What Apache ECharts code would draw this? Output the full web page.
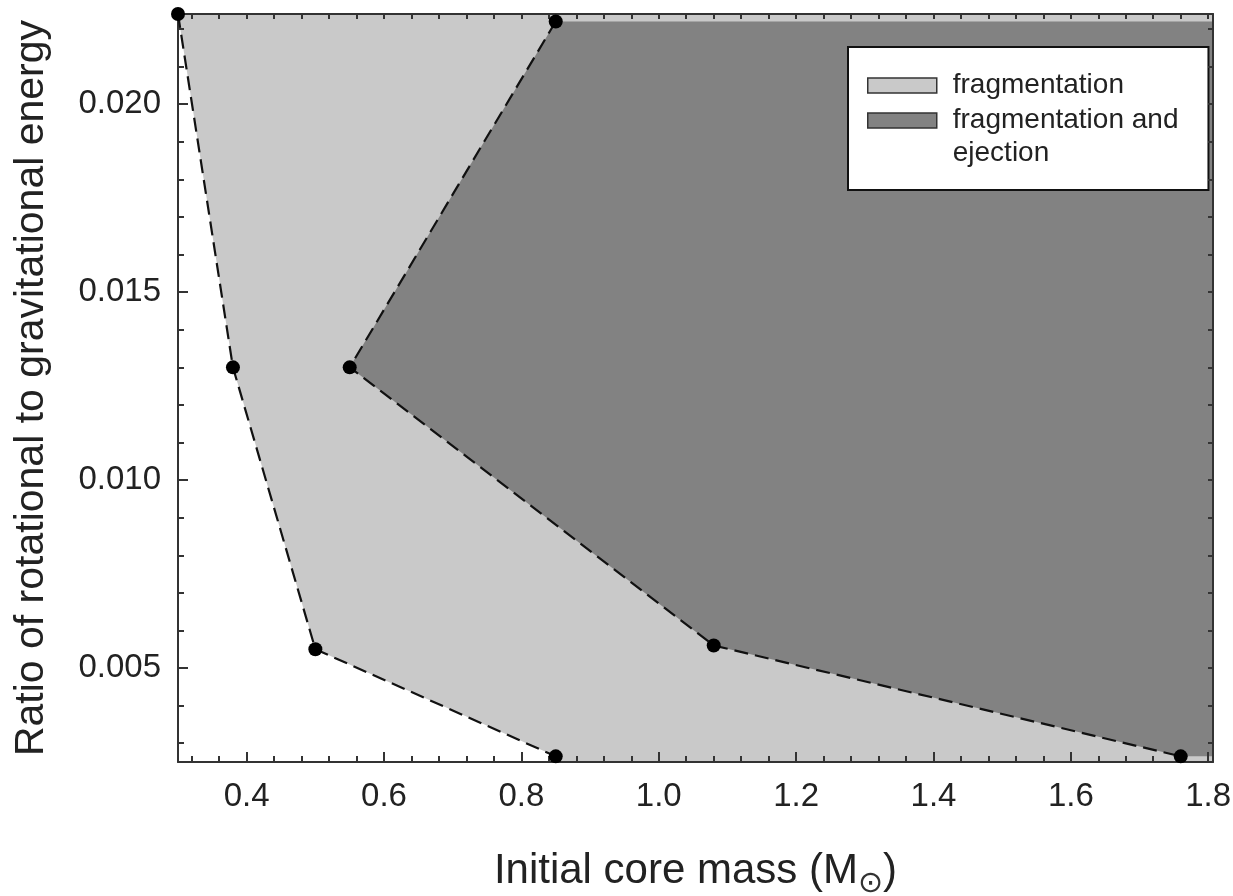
<!DOCTYPE html>
<html>
<head>
<meta charset="utf-8">
<title>Fragmentation regions</title>
<script src="https://cdn.jsdelivr.net/npm/echarts@6.0.0/dist/echarts.min.js"></script>
<style>
html, body { margin: 0; padding: 0; background: #fff; }
#chart { width: 1233px; height: 896px; }
</style>
</head>
<body>
<div id="chart"></div>
<script>
// left dashed boundary: onset of fragmentation
var fragMass = [0.30, 0.38, 0.50, 0.85];
var fragBeta = [0.0224, 0.0130, 0.0055, 0.00265];
// inner dashed boundary: fragmentation and ejection
var ejecMass = [0.85, 0.55, 1.08, 1.76];
var ejecBeta = [0.0222, 0.0130, 0.0056, 0.00265];

var massTicks = [0.4, 0.6, 0.8, 1.0, 1.2, 1.4, 1.6, 1.8];
var betaTicks = [0.005, 0.010, 0.015, 0.020];
var massMinorTicks = [];
for (var i = 8; i <= 45; i++) massMinorTicks.push(+(i * 0.04).toFixed(2));
var betaMinorTicks = [];
for (var j = 3; j <= 22; j++) betaMinorTicks.push(+(j * 0.001).toFixed(3));

var xMin = 0.3, xMax = 1.807, yMin = 0.0025, yMax = 0.0224;

var lightColor = '#c9c9c9';
var darkColor = '#828282';
var font = 'Liberation Sans';

// light region: right of the fragmentation boundary
var lightX = fragMass.concat([0.85, xMax, xMax]);
var lightY = fragBeta.concat([yMin, yMin, yMax]);
// dark region: right of the ejection boundary
var darkX = ejecMass.concat([xMax, xMax]);
var darkY = ejecBeta.concat([ejecBeta[3], ejecBeta[0]]);

function region(name, xs, ys, color) {
  return {
    name: name,
    type: 'custom',
    coordinateSystem: 'cartesian2d',
    data: xs.map(function (x, k) { return [x, ys[k]]; }),
    itemStyle: { color: color },
    silent: true,
    z: 1,
    renderItem: function (params, api) {
      if (params.dataIndex !== 0) return;
      var pts = xs.map(function (x, k) { return api.coord([x, ys[k]]); });
      return { type: 'polygon', shape: { points: pts }, style: { fill: color } };
    }
  };
}

function boundary(xs, ys) {
  return {
    type: 'line',
    data: xs.map(function (x, k) { return [x, ys[k]]; }),
    symbol: 'circle',
    symbolSize: 14,
    itemStyle: { color: '#000' },
    lineStyle: { color: '#111', width: 2.2, type: [14, 7] },
    clip: false,
    silent: true,
    z: 20
  };
}

var axisLine = { show: true, lineStyle: { color: '#333', width: 2 } };

var chart = echarts.init(document.getElementById('chart'));
chart.setOption({
  animation: false,
  backgroundColor: '#fff',
  grid: [
    { left: 178, right: 20, top: 14, bottom: 134, outerBoundsMode: 'none' },
    { left: 178, right: 20, top: 14, bottom: 134, outerBoundsMode: 'none' }
  ],
  legend: {
    left: 848,
    top: 47,
    orient: 'vertical',
    backgroundColor: '#fff',
    borderColor: '#111',
    borderWidth: 2,
    borderRadius: 0,
    padding: [22, 30, 20, 19],
    itemGap: -31,
    itemWidth: 69,
    itemHeight: 15,
    icon: 'rect',
    itemStyle: { borderColor: '#333', borderWidth: 1.5 },
    textStyle: { fontFamily: font, fontSize: 28, color: '#222', lineHeight: 33, padding: [0, 0, 0, 11] },
    formatter: function (name) {
      // blank first line keeps the first text line level with the swatch
      return name === 'fragmentation and ejection' ? ' \nfragmentation and\nejection' : name;
    },
    data: ['fragmentation', 'fragmentation and ejection']
  },
  xAxis: [
    {
      type: 'value', gridIndex: 0, position: 'bottom', min: xMin, max: xMax, z: 10,
      axisLine: axisLine,
      axisTick: { show: true, inside: true, length: 10, customValues: massTicks, lineStyle: { color: '#333', width: 2 } },
      axisLabel: {
        customValues: massTicks, margin: 18, fontSize: 33, fontFamily: font, color: '#222',
        formatter: function (v) { return v.toFixed(1); }
      },
      splitLine: { show: false },
      name: '{a|Initial core mass (M}{s|\u2299}{a|)}',
      nameLocation: 'middle',
      nameGap: 84,
      nameTextStyle: {
        rich: {
          a: { fontFamily: font, fontSize: 42, color: '#222', lineHeight: 50 },
          s: { fontFamily: 'DejaVu Sans', fontSize: 30, color: '#333', lineHeight: 50, padding: [26, 0, 0, 0] }
        }
      }
    },
    {
      type: 'value', gridIndex: 0, position: 'top', min: xMin, max: xMax, z: 10,
      axisLine: axisLine,
      axisTick: { show: true, inside: true, length: 5, customValues: massMinorTicks, lineStyle: { color: '#333', width: 2 } },
      axisLabel: { show: false },
      splitLine: { show: false }
    },
    {
      type: 'value', gridIndex: 1, position: 'bottom', min: xMin, max: xMax, z: 10,
      axisLine: { show: false },
      axisTick: { show: true, inside: true, length: 6, customValues: massMinorTicks, lineStyle: { color: '#333', width: 2 } },
      axisLabel: { show: false },
      splitLine: { show: false }
    }
  ],
  yAxis: [
    {
      type: 'value', gridIndex: 0, position: 'left', min: yMin, max: yMax, z: 10,
      axisLine: axisLine,
      axisTick: { show: true, inside: true, length: 10, customValues: betaTicks, lineStyle: { color: '#333', width: 2 } },
      axisLabel: {
        customValues: betaTicks, margin: 17, fontSize: 33, fontFamily: font, color: '#222',
        formatter: function (v) { return v.toFixed(3); }
      },
      splitLine: { show: false },
      name: 'Ratio of rotational to gravitational energy',
      nameLocation: 'middle',
      nameGap: 126,
      nameTextStyle: { fontFamily: font, fontSize: 41, color: '#222' }
    },
    {
      type: 'value', gridIndex: 0, position: 'right', min: yMin, max: yMax, z: 10,
      axisLine: axisLine,
      axisTick: { show: true, inside: true, length: 5, customValues: betaMinorTicks, lineStyle: { color: '#333', width: 2 } },
      axisLabel: { show: false },
      splitLine: { show: false }
    },
    {
      type: 'value', gridIndex: 1, position: 'left', min: yMin, max: yMax, z: 10,
      axisLine: { show: false },
      axisTick: { show: true, inside: true, length: 6, customValues: betaMinorTicks, lineStyle: { color: '#333', width: 2 } },
      axisLabel: { show: false },
      splitLine: { show: false }
    }
  ],
  series: [
    region('fragmentation', lightX, lightY, lightColor),
    region('fragmentation and ejection', darkX, darkY, darkColor),
    boundary(fragMass, fragBeta),
    boundary(ejecMass, ejecBeta)
  ]
});
</script>
</body>
</html>
